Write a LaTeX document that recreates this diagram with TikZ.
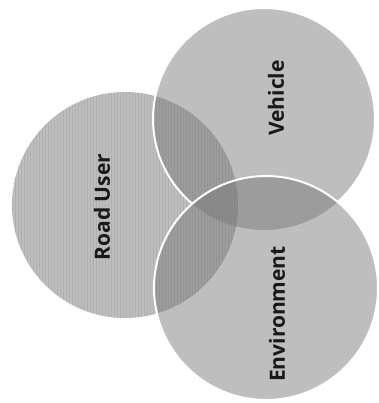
\documentclass[tikz,border=0pt]{standalone}
\usepackage{fontspec}
\setmainfont{Open Sans}
\begin{document}
\begin{tikzpicture}[x=1pt,y=-1pt,
  disc/.style={fill=black!53,fill opacity=0.48},
  rim/.style={draw=white,line width=2pt},
  lbl/.style={font=\bfseries\fontsize{21}{24}\selectfont,rotate=90,text=black!90}]
\useasboundingbox[fill=white] (0,0) rectangle (378,403);
\coordinate (ru) at (125,205);
\coordinate (ve) at (264,119);
\coordinate (en) at (266,288);
% Road user disc with stripes
\fill[disc] (ru) circle (113);
\begin{scope}
  \clip (ru) circle (113);
  \foreach \i in {0,...,76} {
    \draw[black,opacity=0.08,line width=0.8pt] (12+3*\i,90) -- (12+3*\i,320);
  }
\end{scope}
\fill[disc] (ve) circle (111);
\fill[disc] (en) circle (112);
% Vehicle rim outside environment
\begin{scope}[even odd rule]
  \clip (-10,-10) rectangle (390,415) (en) circle (112);
  \draw[rim] (ve) circle (111);
\end{scope}
\draw[rim] (en) circle (112);
\node[lbl] (tru) at (102,207) {Road User};
\node[lbl] (tve) at (276,98) {Vehicle};
\node[lbl] (ten) at (277,314) {Environment};
\end{tikzpicture}
\end{document}
